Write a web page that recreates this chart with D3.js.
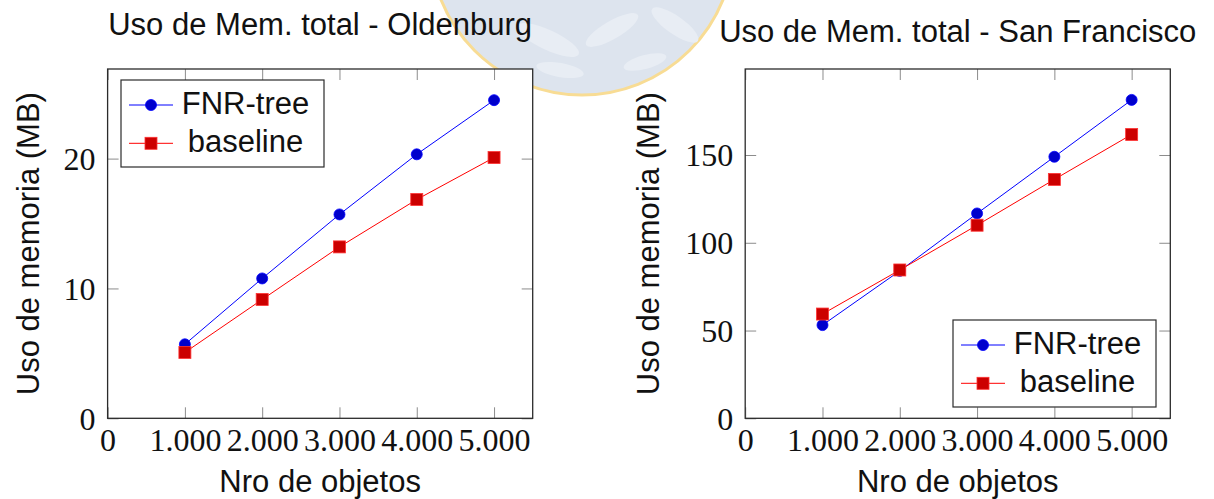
<!DOCTYPE html>
<html>
<head>
<meta charset="utf-8">
<script src="https://cdn.jsdelivr.net/npm/d3@7"></script>
<style>
  body { margin: 0; background: #fff; }
  svg { display: block; }
  .tick line { stroke: #8c8c8c; stroke-width: 1; }
  .tick text { font-family: "Liberation Serif", serif; font-size: 32px; fill: #111; }
  .lbl { font-family: "Liberation Sans", Arial, sans-serif; font-size: 31px; fill: #111; }
</style>
</head>
<body>
<div id="chart"></div>
<script>
// data
const objetos = [1000, 2000, 3000, 4000, 5000];
const xTicks = [0, 1000, 2000, 3000, 4000, 5000];

const oldenburgFnr = [5.7, 10.77, 15.7, 20.33, 24.5];
const oldenburgBase = [5.07, 9.15, 13.2, 16.85, 20.08];
const oldenburgYTicks = [0, 10, 20];

const sfFnr = [53.1, 84.0, 116.7, 149.0, 181.4];
const sfBase = [59.4, 84.5, 110.0, 136.1, 161.7];
const sfYTicks = [0, 50, 100, 150];

const seriesNames = ["FNR-tree", "baseline"];

const W = 1214, H = 499;
const svg = d3.select("#chart").append("svg").attr("width", W).attr("height", H);

// faint logo watermark behind the titles
const logo = svg.append("g");
logo.append("circle").attr("cx", 582).attr("cy", -57).attr("r", 152)
  .attr("fill", "#dde4ee").attr("stroke", "#f8dc94").attr("stroke-width", 3);
[[548, 40, 34, 10, 25], [612, 30, 30, 9, -30], [675, 25, 28, 9, 35], [560, 70, 24, 7, 10], [645, 62, 22, 7, -15]]
  .forEach(([cx, cy, rx, ry, a]) => {
    logo.append("ellipse").attr("cx", cx).attr("cy", cy).attr("rx", rx).attr("ry", ry)
      .attr("transform", `rotate(${a},${cx},${cy})`).attr("fill", "#e8edf4");
  });

const locale = d3.formatLocale({ decimal: ",", thousands: ".", grouping: [3], currency: ["", ""] });
const fmtX = locale.format(",");

function drawChart(opt) {
  const { x0, x1, y0, y1, ymax, yTicks, fnr, base, title, titleY, legend, ylabelX } = opt;
  const x = d3.scaleLinear().domain([0, 5500]).range([x0, x1]);
  const y = d3.scaleLinear().domain([0, ymax]).range([y1, y0]);
  const g = svg.append("g");

  g.append("rect").attr("x", x0).attr("y", y0).attr("width", x1 - x0).attr("height", y1 - y0)
    .attr("fill", "#fff");

  // axes with inward ticks
  const bottom = g.append("g").attr("transform", `translate(0,${y1})`)
    .call(d3.axisBottom(x).tickValues(xTicks).tickSizeInner(-11).tickSizeOuter(0).tickPadding(10)
      .tickFormat(d => d === 0 ? "0" : fmtX(d)));
  const top = g.append("g").attr("transform", `translate(0,${y0})`)
    .call(d3.axisTop(x).tickValues(xTicks).tickSizeInner(-11).tickSizeOuter(0).tickFormat(""));
  const left = g.append("g").attr("transform", `translate(${x0},0)`)
    .call(d3.axisLeft(y).tickValues(yTicks).tickSizeInner(-11).tickSizeOuter(0).tickPadding(12));
  const right = g.append("g").attr("transform", `translate(${x1},0)`)
    .call(d3.axisRight(y).tickValues(yTicks).tickSizeInner(-11).tickSizeOuter(0).tickFormat(""));
  [bottom, top, left, right].forEach(a => { a.select(".domain").remove(); a.attr("font-family", null).attr("font-size", null); });
  left.selectAll(".tick text").attr("dy", "0.34em");

  g.append("rect").attr("x", x0).attr("y", y0).attr("width", x1 - x0).attr("height", y1 - y0)
    .attr("fill", "none").attr("stroke", "#2b2b2b").attr("stroke-width", 1.3);

  const line = d3.line().x((d, i) => x(objetos[i])).y(d => y(d));

  // FNR-tree
  g.append("path").datum(fnr).attr("d", line).attr("fill", "none").attr("stroke", "#0000ff").attr("stroke-width", 1);
  g.selectAll(".dotF").data(fnr).join("circle")
    .attr("cx", (d, i) => x(objetos[i])).attr("cy", d => y(d)).attr("r", 5.5)
    .attr("fill", "#0000cc").attr("stroke", "#0000ff").attr("stroke-width", 0.8);

  // baseline
  g.append("path").datum(base).attr("d", line).attr("fill", "none").attr("stroke", "#ff0000").attr("stroke-width", 1);
  g.selectAll(".dotB").data(base).join("rect")
    .attr("x", (d, i) => x(objetos[i]) - 6).attr("y", d => y(d) - 6).attr("width", 12).attr("height", 12)
    .attr("fill", "#cc0000").attr("stroke", "#ff3333").attr("stroke-width", 0.8);

  // titles and axis labels
  g.append("text").attr("class", "lbl").attr("x", (x0 + x1) / 2).attr("y", titleY)
    .attr("text-anchor", "middle").text(title);
  g.append("text").attr("class", "lbl").attr("x", (x0 + x1) / 2).attr("y", 492)
    .attr("text-anchor", "middle").text("Nro de objetos");
  g.append("text").attr("class", "lbl").attr("text-anchor", "middle")
    .attr("transform", `translate(${ylabelX},${(y0 + y1) / 2}) rotate(-90)`)
    .text("Uso de memoria (MB)");

  // legend
  const lg = g.append("g").attr("transform", `translate(${legend.x},${legend.y})`);
  lg.append("rect").attr("width", 203).attr("height", 87).attr("fill", "#fff")
    .attr("stroke", "#2b2b2b").attr("stroke-width", 1.2);
  seriesNames.forEach((name, i) => {
    const ry = 25 + i * 38.3;
    const col = i === 0 ? "#0000ff" : "#ff0000";
    lg.append("line").attr("x1", 8).attr("x2", 52).attr("y1", ry).attr("y2", ry)
      .attr("stroke", col).attr("stroke-width", 1);
    if (i === 0) {
      lg.append("circle").attr("cx", 30).attr("cy", ry).attr("r", 5.5).attr("fill", "#0000cc")
        .attr("stroke", col).attr("stroke-width", 0.8);
    } else {
      lg.append("rect").attr("x", 24).attr("y", ry - 6).attr("width", 12).attr("height", 12)
        .attr("fill", "#cc0000").attr("stroke", "#ff3333").attr("stroke-width", 0.8);
    }
    lg.append("text").attr("class", "lbl").attr("x", 124.5).attr("y", ry + 8.5)
      .attr("text-anchor", "middle").text(name);
  });
}

drawChart({
  x0: 107.6, x1: 532.7, y0: 69, y1: 418.3, ymax: 26.9, yTicks: oldenburgYTicks,
  fnr: oldenburgFnr, base: oldenburgBase,
  title: "Uso de Mem. total - Oldenburg", titleY: 35,
  legend: { x: 121, y: 80 }, ylabelX: 39
});

drawChart({
  x0: 745.2, x1: 1170.3, y0: 69, y1: 418.3, ymax: 199, yTicks: sfYTicks,
  fnr: sfFnr, base: sfBase,
  title: "Uso de Mem. total - San Francisco", titleY: 42,
  legend: { x: 953, y: 320 }, ylabelX: 659
});
</script>
</body>
</html>
